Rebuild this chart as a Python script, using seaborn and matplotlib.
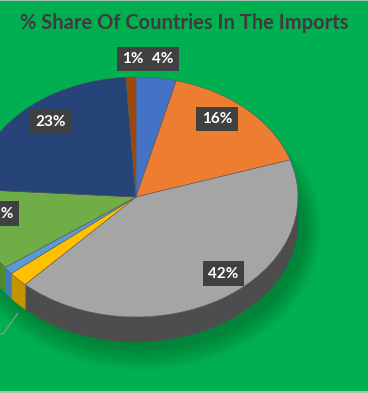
import numpy as np
import matplotlib
matplotlib.use("Agg")
import matplotlib.pyplot as plt
import seaborn as sns
from matplotlib.patches import Ellipse
from matplotlib.lines import Line2D

# data: share of each country in the imports (%), clockwise from 12 o'clock
shares = [4, 16, 42, 2, 1, 11, 23, 1]
top_colors = ["#4472C4", "#ED7D31", "#A5A5A5", "#FFC000", "#5B9BD5", "#70AD47", "#264478", "#9E480E"]
side_colors = ["#2F5597", "#B35A1F", "#4D4D4D", "#C49400", "#3F7CB8", "#4E8A30", "#1A2F55", "#6E320A"]
title = "% Share Of Countries In The Imports"

# where Excel put each data label (pie units, centre = 0,0)
label_pos = [(0.165, 1.15), (0.50, 0.65), (0.54, -0.64), (-0.98, -1.14),
             (-1.0, -0.9), (-0.85, -0.14), (-0.525, 0.625), (-0.02, 1.15)]

sns.set_theme(style="white")
plt.rcParams["font.family"] = ["Lato", "DejaVu Sans"]

bg = "#00B050"
fig = plt.figure(figsize=(3.68, 3.93), dpi=100, facecolor=bg)
ax = fig.add_axes([0, 0, 1, 1])
ax.set_facecolor(bg)

depth = 0.21
n_layers = 30

# soft shadow under the pie
for i in range(8):
    ax.add_patch(Ellipse((0.04, -depth - 0.06), 2.0 + 0.03 * i, 2.0 + 0.05 * i,
                         facecolor="black", alpha=0.03, edgecolor="none", zorder=0))

# extruded side of the 3D pie: stacked layers from the bottom up
for k in range(n_layers, 0, -1):
    off = depth * k / n_layers
    ax.pie(shares, colors=side_colors, startangle=90, counterclock=False,
           center=(0, -off), radius=1.0, wedgeprops=dict(edgecolor="none", linewidth=0))

# top face
ax.pie(shares, colors=top_colors, startangle=90, counterclock=False,
       center=(0, 0), radius=1.0, wedgeprops=dict(edgecolor="#5a5a5a", linewidth=0.4))

# leader line for the small yellow slice
ax.plot([-0.73, -0.82, -1.0], [-0.97, -1.14, -1.14], color="#9a9a9a", lw=0.8, zorder=5)

# data labels
label_box = dict(boxstyle="square,pad=0.35", facecolor="#404040", edgecolor="none")
for s, (x, y) in zip(shares, label_pos):
    ax.text(x, y, f"{s}%", ha="center", va="center", color="white", fontsize=11,
            fontweight="bold", bbox=label_box, zorder=10)

ax.set_aspect("auto")
ax.set_xlim(-136 / 162, 232 / 162)
ax.set_ylim(-196 / 120, 197 / 120)
ax.axis("off")

fig.text(0.5, 0.942, title, ha="center", va="center", fontsize=14.5,
         fontweight="bold", color="#403a40")

# thin grey lines along the top and bottom edge of the chart area
for yy in (0.999, 0.002):
    fig.add_artist(Line2D([0, 1], [yy, yy], transform=fig.transFigure,
                          color="#c8c8c8", lw=1.2))

fig.savefig("out.png", dpi=100, facecolor=bg)
